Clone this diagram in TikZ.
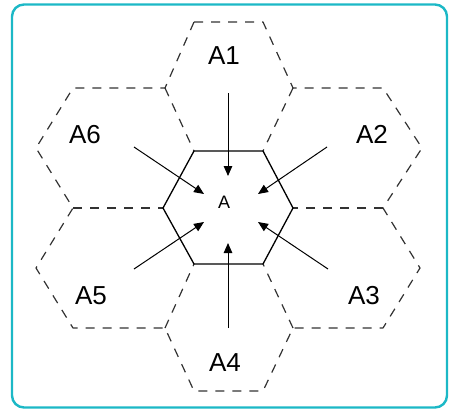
\documentclass[tikz,border=0pt]{standalone}
\usepackage{fontspec}
\setmainfont{Liberation Sans}
\usetikzlibrary{arrows.meta}
\definecolor{frameteal}{RGB}{28,184,198}
\definecolor{hexgray}{RGB}{50,50,50}

\begin{document}
\begin{tikzpicture}[x=1pt,y=-1pt,line width=0.8pt,>={Triangle[length=10pt,width=8.5pt]},
  cell/.style={draw=hexgray,line width=1.2pt,dash pattern=on 9pt off 8pt,line join=round},
  core/.style={draw=black,line width=1.3pt,line join=round},
  lab/.style={anchor=base,inner sep=0pt,font=\fontsize{26}{30}\selectfont},
  feed/.style={->,line width=1pt}]
\useasboundingbox (0,0) rectangle (449,410);
% ================= frame =================
\draw[frameteal,line width=2.4pt,rounded corners=12pt] (12,4.5) rectangle (447,407.5);
% ================= central cell =================
\coordinate (c1) at (194,151);
\coordinate (c2) at (263,151);
\coordinate (c3) at (293,208);
\coordinate (c4) at (263,264);
\coordinate (c5) at (194,264);
\coordinate (c6) at (163,208);
% outer corners
\coordinate (n1) at (194,22);   \coordinate (n2) at (263,22);
\coordinate (ne) at (293,88);   \coordinate (nw) at (165,88);
\coordinate (e1) at (383,88);   \coordinate (e2) at (422,148);
\coordinate (e3) at (383,208);  \coordinate (e4) at (420,268);
\coordinate (e5) at (383,328);  \coordinate (se) at (293,328);
\coordinate (s1) at (263,391);  \coordinate (s2) at (194,391);
\coordinate (sw) at (165,328);  \coordinate (w5) at (73,328);
\coordinate (w4) at (36,268);   \coordinate (w3) at (73,208);
\coordinate (w2) at (36,148);   \coordinate (w1) at (73,88);
% ================= neighbour cells A1..A6 (dashed) =================
% outline of the ring
\draw[cell] (n1) -- (n2) -- (ne) -- (e1) -- (e2) -- (e3) -- (e4) -- (e5)
  -- (se) -- (s1) -- (s2) -- (sw) -- (w5) -- (w4) -- (w3) -- (w2) -- (w1)
  -- (nw) -- cycle;
% walls between neighbours, each drawn once
\draw[cell] (ne) -- (c2);
\draw[cell] (e3) -- (c3);
\draw[cell] (se) -- (c4);
\draw[cell] (sw) -- (c5);
\draw[cell] (w3) -- (c6);
\draw[cell] (nw) -- (c1);
\draw[core] (c1) -- (c2) -- (c3) -- (c4) -- (c5) -- (c6) -- cycle;
% ================= labels =================
\node[lab] (a1) at (224,64) {A1};
\node[lab] (a2) at (372,143) {A2};
\node[lab] (a3) at (364,304) {A3};
\node[lab] (a4) at (225,371) {A4};
\node[lab] (a5) at (91,304) {A5};
\node[lab] (a6) at (85,143) {A6};
\node[anchor=base,inner sep=0pt,font=\fontsize{18}{20}\selectfont] (a) at (224,208) {A};
% ================= arrows into A =================
\coordinate (f1) at (228,93);   \coordinate (t1) at (228,176);
\coordinate (f2) at (327,147);  \coordinate (t2) at (258,194);
\coordinate (f3) at (328,269);  \coordinate (t3) at (258,222);
\coordinate (f4) at (228,328);  \coordinate (t4) at (228,243);
\coordinate (f5) at (134,269);  \coordinate (t5) at (204,222);
\coordinate (f6) at (134,147);  \coordinate (t6) at (204,194);
\foreach \k in {1,...,6}
  \draw[feed] (f\k) -- (t\k);
\end{tikzpicture}
\end{document}
